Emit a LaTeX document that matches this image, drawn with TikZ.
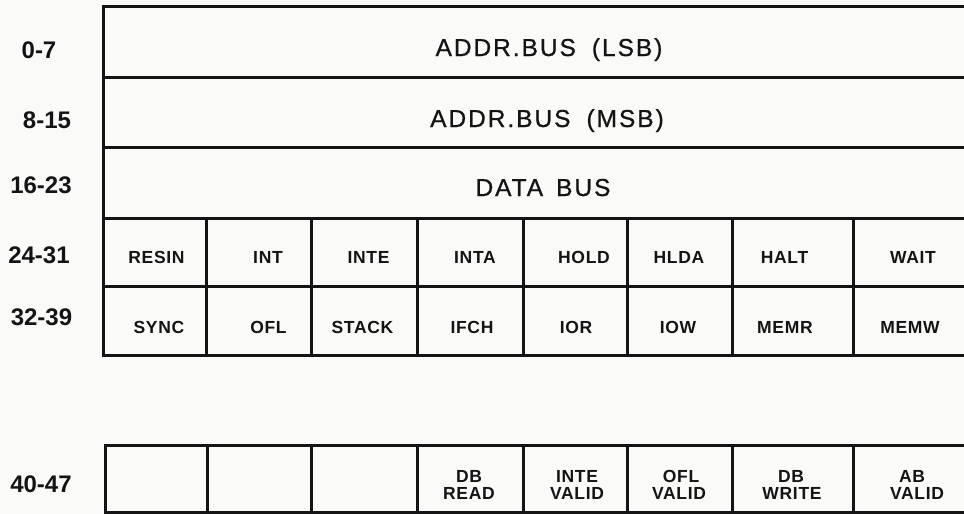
\documentclass[tikz,border=0pt]{standalone}
\usepackage{fontspec}
\setmainfont{Liberation Sans}
\newfontfamily\busfont[LetterSpace=8,FakeBold=0.8]{Liberation Sans}
\newfontfamily\cellfont[LetterSpace=4]{Liberation Sans}
\definecolor{ink}{RGB}{20,20,20}
\definecolor{paper}{RGB}{250,250,248}
\begin{document}
\begin{tikzpicture}[x=1pt,y=-1pt,
  frame/.style={draw=ink, line width=3pt, line cap=rect, line join=miter},
  rowlab/.style={anchor=base, font=\bfseries\fontsize{24}{24}\selectfont, text=ink, inner sep=0pt},
  bustext/.style={anchor=base, font=\busfont\fontsize{24.5}{24.5}\selectfont, text=ink, inner sep=0pt},
  celltext/.style={anchor=base, font=\cellfont\bfseries\fontsize{17.5}{17}\selectfont, text=ink, inner sep=0pt}
]
\path[fill=paper] (0,0) rectangle (964,514);
\useasboundingbox (0,0) rectangle (964,514);
\clip (0,0) rectangle (964,514);

% upper frame
\foreach \y in {6,77,147,218,286,355} \draw[frame] (103,\y) -- (975,\y);
\draw[frame] (103,6) -- (103,355);
\foreach \x in {206,311,417,523,627,732,853} \draw[frame] (\x,218) -- (\x,355);

% lower frame
\draw[frame] (105,445) -- (975,445);
\draw[frame] (105,512) -- (975,512);
\draw[frame] (105,445) -- (105,512);
\foreach \x in {207,311,417,523,627,732,853} \draw[frame] (\x,445) -- (\x,512);

% row labels
\node[rowlab] (l0)  at (39,58)   {0-7};
\node[rowlab] (l8)  at (47,128)  {8-15};
\node[rowlab] (l16) at (41,193)  {16-23};
\node[rowlab] (l24) at (39,263)  {24-31};
\node[rowlab] (l32) at (41.5,325) {32-39};
\node[rowlab] (l40) at (41,492)  {40-47};

% bus rows
\node[bustext] (lsb)  at (549,56)  {ADDR.BUS\hspace{16pt}(LSB)};
\node[bustext] (msb)  at (547,127) {ADDR.BUS\hspace{16pt}(MSB)};
\node[bustext] (data) at (543,196) {DATA\hspace{13pt}BUS};

% row 24-31
\node[celltext] (c24a) at (156.5,263) {RESIN};
\node[celltext] (c24b) at (268,263)   {INT};
\node[celltext] (c24c) at (368.5,263) {INTE};
\node[celltext] (c24d) at (475,263)   {INTA};
\node[celltext] (c24e) at (584,263)   {HOLD};
\node[celltext] (c24f) at (679,263)   {HLDA};
\node[celltext] (c24g) at (784.5,263) {HALT};
\node[celltext] (c24h) at (913,263)   {WAIT};

% row 32-39
\node[celltext] (c32a) at (159,333)   {SYNC};
\node[celltext] (c32b) at (268.5,333) {OFL};
\node[celltext] (c32c) at (362.5,333) {STACK};
\node[celltext] (c32d) at (472,333)   {IFCH};
\node[celltext] (c32e) at (576,333)   {IOR};
\node[celltext] (c32f) at (678,333)   {IOW};
\node[celltext] (c32g) at (785,333)   {MEMR};
\node[celltext] (c32h) at (910,333)   {MEMW};

% row 40-47
\node[celltext] (c40d1) at (469,482) {DB};
\node[celltext] (c40d2) at (469,499) {READ};
\node[celltext] (c40e1) at (577,482) {INTE};
\node[celltext] (c40e2) at (577,499) {VALID};
\node[celltext] (c40f1) at (681,482) {OFL};
\node[celltext] (c40f2) at (679,499) {VALID};
\node[celltext] (c40g1) at (791,482) {DB};
\node[celltext] (c40g2) at (792,499) {WRITE};
\node[celltext] (c40h1) at (912,482) {AB};
\node[celltext] (c40h2) at (917,499) {VALID};
\end{tikzpicture}
\end{document}
